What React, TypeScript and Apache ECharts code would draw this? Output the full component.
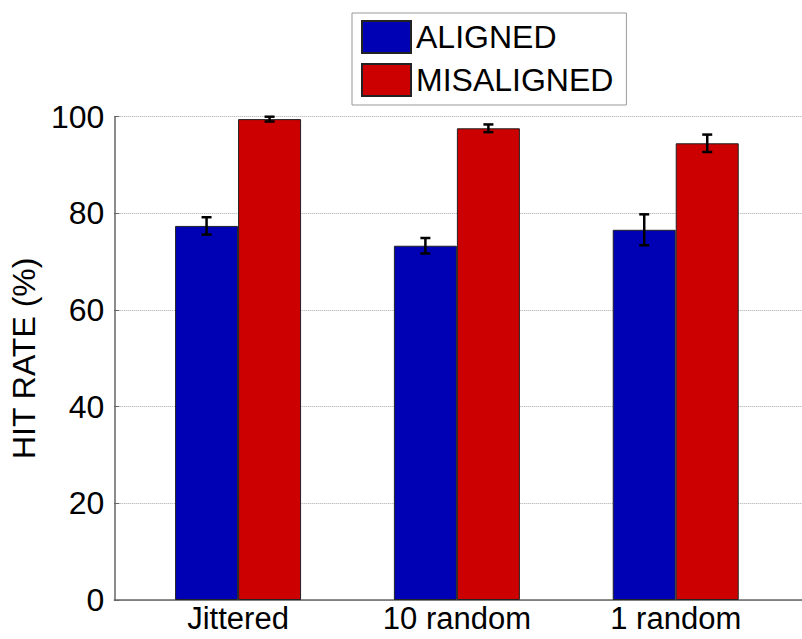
import React, { useEffect, useRef } from "react";
import * as echarts from "echarts";

const categories = ["Jittered", "10 random", "1 random"];
const categoryPositions = [1, 2, 3];
const alignedValues = [77.4, 73.3, 76.6];
const alignedErrors = [1.8, 1.6, 3.2];
const misalignedValues = [99.5, 97.6, 94.5];
const misalignedErrors = [0.5, 0.8, 1.8];
const seriesNames = ["ALIGNED", "MISALIGNED"];
const yTicks = [0, 20, 40, 60, 80, 100];

const FONT = "Liberation Sans, Arial, sans-serif";
const BAR_W = 63;

export default function App() {
  const ref = useRef<HTMLDivElement>(null);
  useEffect(() => {
    if (!ref.current) return;
    const chart = echarts.init(ref.current, undefined, { renderer: "svg" });

    const errData = (vals: number[], errs: number[], off: number) =>
      categoryPositions.map((x, i) => [x, vals[i] - errs[i], vals[i] + errs[i], off]);

    const renderErr = (params: any, api: any) => {
      const x = api.value(0);
      const lo = api.coord([x, api.value(1)]);
      const hi = api.coord([x, api.value(2)]);
      const off = api.value(3);
      const cx = lo[0] + off;
      const cw = 5;
      const style = { stroke: "#000", lineWidth: 2.5 };
      return {
        type: "group",
        children: [
          { type: "line", shape: { x1: cx, y1: lo[1], x2: cx, y2: hi[1] }, style },
          { type: "line", shape: { x1: cx - cw, y1: lo[1], x2: cx + cw, y2: lo[1] }, style },
          { type: "line", shape: { x1: cx - cw, y1: hi[1], x2: cx + cw, y2: hi[1] }, style },
        ],
      };
    };

    chart.setOption({
      animation: false,
      textStyle: { fontFamily: FONT },
      legend: {
        orient: "vertical",
        left: 352,
        top: 13,
        padding: [7, 13, 8, 9],
        itemGap: 9,
        itemWidth: 49,
        itemHeight: 32,
        icon: "rect",
        borderColor: "#999",
        borderWidth: 1,
        backgroundColor: "#fff",
        textStyle: { fontSize: 32, color: "#000", fontFamily: FONT, padding: [0, 0, 0, 0] },
        data: seriesNames,
      },
      grid: { left: 113, right: 0, top: 116.7, bottom: 39 },
      xAxis: {
        type: "value",
        min: 0.4344,
        max: 3.577,
        axisLine: { show: true, onZero: false, lineStyle: { color: "#666", width: 1.5 } },
        axisTick: { show: false },
        splitLine: { show: false },
        axisLabel: {
          fontSize: 31,
          color: "#000",
          fontFamily: FONT,
          margin: 3,
          showMinLabel: false,
          showMaxLabel: false,
          formatter: (v: number) => {
            const r = Math.round(v);
            if (Math.abs(v - r) < 1e-6) {
              const idx = categoryPositions.indexOf(r);
              if (idx >= 0) return categories[idx];
            }
            return "";
          },
        },
      },
      yAxis: {
        type: "value",
        min: yTicks[0],
        max: yTicks[yTicks.length - 1],
        interval: 20,
        name: "HIT RATE (%)",
        nameLocation: "middle",
        nameGap: 72,
        nameTextStyle: { fontSize: 32, color: "#000", fontFamily: FONT },
        axisLine: { show: true, lineStyle: { color: "#666", width: 1.5 } },
        axisTick: { show: true, inside: true, length: 5, lineStyle: { color: "#666" } },
        splitLine: { show: true, lineStyle: { color: "#aaa", type: "dotted", width: 1 } },
        axisLabel: { fontSize: 32, color: "#000", fontFamily: FONT, margin: 10 },
      },
      series: [
        {
          name: seriesNames[0],
          type: "bar",
          barWidth: BAR_W,
          barGap: "0%",
          itemStyle: { color: "#0000b4", borderColor: "#222", borderWidth: 1 },
          data: categoryPositions.map((x, i) => [x, alignedValues[i]]),
          z: 2,
        },
        {
          name: seriesNames[1],
          type: "bar",
          barWidth: BAR_W,
          barGap: "0%",
          itemStyle: { color: "#cc0000", borderColor: "#222", borderWidth: 1 },
          data: categoryPositions.map((x, i) => [x, misalignedValues[i]]),
          z: 2,
        },
        {
          type: "custom",
          renderItem: renderErr,
          data: errData(alignedValues, alignedErrors, -BAR_W / 2),
          z: 5,
          silent: true,
        },
        {
          type: "custom",
          renderItem: renderErr,
          data: errData(misalignedValues, misalignedErrors, BAR_W / 2),
          z: 5,
          silent: true,
        },
      ],
    });
    return () => chart.dispose();
  }, []);
  return (
    <div
      ref={ref}
      style={{ position: "absolute", left: 0, top: 0, width: 802, height: 639, background: "#fff" }}
    />
  );
}
